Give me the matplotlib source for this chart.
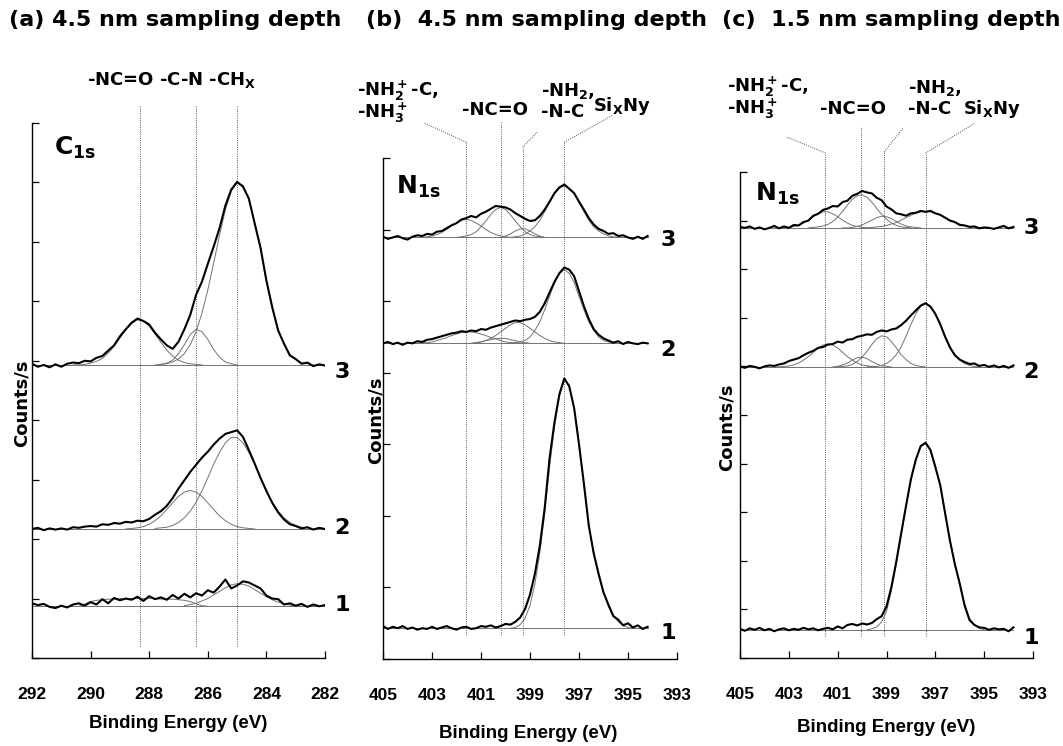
import numpy as np
import matplotlib
matplotlib.use('Agg')
import matplotlib.pyplot as plt

plt.rcParams['font.family'] = ['DejaVu Sans']
plt.rcParams['font.weight'] = 'bold'
plt.rcParams['mathtext.fontset'] = 'dejavusans'
plt.rcParams['mathtext.default'] = 'bf'

NARROW = ['Liberation Sans', 'DejaVu Sans']  # tick labels and axis titles
STEP = 0.2  # eV between read-off points

# ---- panel (a): C1s, 4.5 nm ----
a_start = 292.0
a_peaks = [288.3, 286.4, 285.0]
a_offsets = [0.87, 2.17, 4.93]
a1_env = [0.05, 0.02, 0.04, -0.01, -0.03, 0.01, -0.02, 0.03, 0.05, 0.01,
          0.07, 0.03, 0.12, 0.05, 0.14, 0.10, 0.13, 0.11, 0.16, 0.09,
          0.17, 0.12, 0.15, 0.11, 0.19, 0.13, 0.21, 0.15, 0.22, 0.18,
          0.27, 0.23, 0.33, 0.45, 0.30, 0.35, 0.42, 0.40, 0.35, 0.30,
          0.18, 0.13, 0.12, 0.03, 0.05, 0.01, 0.04, -0.01, 0.03, 0.00,
          0.02]
a2_env = [0.00, 0.02, -0.02, 0.01, -0.01, 0.01, -0.01, 0.03, 0.02, 0.04,
          0.05, 0.04, 0.08, 0.07, 0.10, 0.09, 0.12, 0.11, 0.14, 0.13,
          0.17, 0.24, 0.30, 0.39, 0.52, 0.68, 0.82, 0.96, 1.08, 1.20,
          1.30, 1.42, 1.52, 1.60, 1.63, 1.66, 1.55, 1.33, 1.10, 0.86,
          0.64, 0.44, 0.28, 0.16, 0.08, 0.05, 0.01, 0.03, -0.01, 0.02,
          0.00]
a3_env = [0.02, -0.03, 0.00, -0.04, 0.01, -0.03, 0.02, 0.04, 0.03, 0.07,
          0.06, 0.12, 0.15, 0.24, 0.33, 0.48, 0.60, 0.71, 0.78, 0.74,
          0.68, 0.54, 0.43, 0.33, 0.27, 0.39, 0.60, 0.84, 1.18, 1.40,
          1.70, 1.99, 2.30, 2.68, 2.95, 3.08, 3.00, 2.80, 2.38, 1.97,
          1.42, 0.97, 0.58, 0.36, 0.16, 0.10, 0.02, 0.04, -0.02, 0.01,
          -0.01]
# fitted components: (first energy, values)
a1_fits = [(290.4, [0.00, 0.04, 0.08, 0.10, 0.11, 0.12, 0.12, 0.13, 0.13, 0.13, 0.13, 0.13,
                    0.13, 0.13, 0.12, 0.12, 0.12, 0.11, 0.10, 0.08, 0.04, 0.01, 0.00]),
           (286.8, [0.01, 0.03, 0.05, 0.09, 0.13, 0.19, 0.25, 0.31, 0.36, 0.38, 0.37,
                    0.34, 0.28, 0.22, 0.16, 0.11, 0.07, 0.04, 0.02, 0.01, 0.00])]
a2_fits = [(288.8, [0.00, 0.01, 0.02, 0.04, 0.08, 0.14, 0.22, 0.33, 0.44, 0.55, 0.62, 0.65,
                    0.62, 0.55, 0.44, 0.33, 0.22, 0.14, 0.08, 0.04, 0.02, 0.01, 0.00]),
           (287.8, [0.01, 0.02, 0.03, 0.06, 0.11, 0.19, 0.30, 0.45, 0.64, 0.86, 1.09, 1.29,
                    1.45, 1.54, 1.54, 1.45, 1.29, 1.09, 0.86, 0.64, 0.45, 0.30, 0.19, 0.11,
                    0.06, 0.03, 0.02, 0.00])]
a3_fits = [(290.6, [0.00, 0.00, 0.01, 0.03, 0.06, 0.11, 0.20, 0.31, 0.45, 0.59, 0.70, 0.76,
                    0.74, 0.65, 0.52, 0.38, 0.25, 0.15, 0.08, 0.04, 0.02, 0.01, 0.00]),
           (287.8, [0.00, 0.01, 0.03, 0.08, 0.19, 0.34, 0.51, 0.60, 0.56, 0.43, 0.26, 0.13,
                    0.05, 0.02, 0.00]),
           (287.6, [0.01, 0.02, 0.05, 0.10, 0.19, 0.34, 0.56, 0.87, 1.26, 1.71, 2.18, 2.61,
                    2.92, 3.06, 3.02, 2.78, 2.40, 1.95, 1.40, 0.95, 0.60, 0.34, 0.18, 0.09,
                    0.04, 0.02, 0.00])]

# ---- panel (b): N1s, 4.5 nm ----
b_start = 405.0
b_peaks = [401.6, 400.2, 399.3, 397.6]
b_offsets = [0.43, 4.41, 5.89]
b1_env = [0.03, -0.01, 0.02, 0.00, 0.03, -0.01, 0.01, -0.02, 0.00, -0.01,
          0.02, -0.01, 0.01, 0.03, 0.00, -0.02, 0.01, 0.02, -0.01, 0.00,
          0.03, 0.02, 0.04, 0.01, 0.03, 0.06, 0.05, 0.09, 0.15, 0.27,
          0.47, 0.76, 1.15, 1.68, 2.38, 2.88, 3.27, 3.49, 3.38, 3.08,
          2.57, 2.02, 1.43, 1.05, 0.76, 0.50, 0.33, 0.17, 0.12, 0.04,
          0.07, 0.01, 0.04, -0.01, 0.02]
b2_env = [0.00, 0.02, -0.01, 0.01, -0.02, 0.01, 0.00, 0.03, 0.02, 0.05,
          0.06, 0.08, 0.10, 0.12, 0.14, 0.15, 0.17, 0.16, 0.18, 0.17,
          0.20, 0.19, 0.22, 0.24, 0.26, 0.28, 0.30, 0.32, 0.31, 0.33,
          0.34, 0.37, 0.44, 0.56, 0.71, 0.86, 0.98, 1.06, 1.03, 0.94,
          0.73, 0.52, 0.34, 0.20, 0.12, 0.07, 0.04, 0.01, 0.03, -0.01,
          0.02, 0.00, -0.01, 0.01, 0.00]
b3_env = [0.01, -0.02, 0.00, 0.02, -0.01, -0.03, 0.01, 0.03, 0.02, 0.05,
          0.04, 0.08, 0.09, 0.13, 0.17, 0.20, 0.25, 0.27, 0.30, 0.28,
          0.33, 0.36, 0.40, 0.44, 0.43, 0.42, 0.39, 0.34, 0.30, 0.26,
          0.23, 0.24, 0.30, 0.39, 0.50, 0.62, 0.70, 0.74, 0.68, 0.62,
          0.50, 0.39, 0.27, 0.18, 0.12, 0.09, 0.05, 0.06, 0.02, 0.03,
          0.00, -0.02, 0.01, -0.02, 0.02]
b1_fits = [(399.8, [0.00, 0.01, 0.05, 0.14, 0.32, 0.62, 1.05, 1.60, 2.25, 2.82, 3.24, 3.47,
                    3.40, 3.07, 2.58, 2.00, 1.45, 1.02, 0.74, 0.50, 0.30, 0.17, 0.09, 0.04,
                    0.01, 0.00])]
b2_fits = [(403.8, [0.00, 0.00, 0.01, 0.01, 0.02, 0.04, 0.06, 0.08, 0.11, 0.13, 0.15, 0.16,
                    0.16, 0.15, 0.13, 0.11, 0.08, 0.06, 0.04, 0.02, 0.01, 0.01, 0.00]),
           (401.4, [0.00, 0.01, 0.02, 0.04, 0.05, 0.07, 0.07, 0.07, 0.05, 0.04, 0.02, 0.01, 0.00]),
           (401.4, [0.00, 0.01, 0.02, 0.04, 0.07, 0.11, 0.16, 0.21, 0.26, 0.29, 0.29, 0.26,
                    0.21, 0.16, 0.11, 0.07, 0.04, 0.02, 0.01, 0.00]),
           (399.8, [0.00, 0.01, 0.02, 0.04, 0.09, 0.18, 0.30, 0.47, 0.66, 0.85, 0.98, 1.03,
                    0.98, 0.85, 0.66, 0.47, 0.30, 0.18, 0.09, 0.04, 0.02, 0.01, 0.00])]
b3_fits = [(403.4, [0.00, 0.01, 0.02, 0.04, 0.07, 0.11, 0.16, 0.20, 0.24, 0.25, 0.24, 0.20,
                    0.16, 0.11, 0.07, 0.04, 0.02, 0.01, 0.00]),
           (402.0, [0.00, 0.01, 0.02, 0.04, 0.08, 0.15, 0.23, 0.32, 0.39, 0.42, 0.39, 0.32,
                    0.23, 0.15, 0.08, 0.04, 0.02, 0.01, 0.00]),
           (400.2, [0.00, 0.02, 0.05, 0.09, 0.12, 0.12, 0.09, 0.05, 0.02, 0.00]),
           (399.8, [0.00, 0.01, 0.02, 0.05, 0.09, 0.15, 0.24, 0.36, 0.49, 0.61, 0.69, 0.72,
                    0.69, 0.61, 0.49, 0.36, 0.24, 0.15, 0.09, 0.05, 0.02, 0.01, 0.00])]

# ---- panel (c): N1s, 1.5 nm ----
c_start = 405.0
c_peaks = [401.5, 400.05, 399.1, 397.4]
c_offsets = [0.58, 5.99, 8.85]
c1_env = [0.02, -0.02, 0.03, 0.00, 0.04, -0.01, 0.02, -0.03, 0.01, 0.03,
          -0.01, 0.02, 0.00, 0.04, 0.01, 0.03, -0.01, 0.02, 0.04, 0.01,
          0.07, 0.03, 0.10, 0.12, 0.09, 0.13, 0.11, 0.14, 0.22, 0.28,
          0.48, 0.88, 1.40, 1.98, 2.55, 3.10, 3.50, 3.78, 3.85, 3.70,
          3.35, 2.98, 2.40, 1.83, 1.35, 0.95, 0.50, 0.20, 0.10, 0.05,
          0.04, 0.00, 0.03, 0.01, 0.02, -0.03, 0.05]
c2_env = [0.01, -0.02, 0.02, 0.00, -0.03, 0.01, 0.03, 0.02, 0.05, 0.07,
          0.12, 0.15, 0.18, 0.24, 0.29, 0.33, 0.39, 0.41, 0.46, 0.47,
          0.52, 0.50, 0.56, 0.57, 0.62, 0.64, 0.67, 0.66, 0.72, 0.75,
          0.73, 0.77, 0.79, 0.86, 0.95, 1.06, 1.16, 1.26, 1.31, 1.24,
          1.09, 0.88, 0.62, 0.40, 0.24, 0.15, 0.10, 0.06, 0.07, 0.02,
          0.04, 0.00, 0.03, -0.01, 0.02, -0.02, 0.03]
c3_env = [0.02, 0.00, 0.03, -0.02, 0.01, -0.03, 0.00, 0.04, -0.01, 0.03,
          0.00, 0.06, 0.05, 0.12, 0.15, 0.25, 0.29, 0.37, 0.40, 0.45,
          0.44, 0.53, 0.56, 0.66, 0.70, 0.76, 0.73, 0.71, 0.62, 0.57,
          0.44, 0.38, 0.30, 0.28, 0.25, 0.30, 0.31, 0.35, 0.33, 0.35,
          0.30, 0.27, 0.21, 0.15, 0.12, 0.06, 0.05, 0.02, 0.03, -0.01,
          0.01, 0.00, -0.02, 0.01, 0.04, -0.01, 0.02]
c1_fits = [(399.8, [0.00, 0.02, 0.06, 0.16, 0.38, 0.80, 1.35, 1.95, 2.55, 3.08, 3.50, 3.77,
                    3.83, 3.70, 3.38, 2.95, 2.40, 1.85, 1.35, 0.92, 0.52, 0.24, 0.10, 0.03,
                    0.00])]
c2_fits = [(403.6, [0.00, 0.00, 0.01, 0.02, 0.04, 0.08, 0.14, 0.21, 0.30, 0.39, 0.45, 0.47,
                    0.45, 0.39, 0.30, 0.21, 0.14, 0.08, 0.04, 0.02, 0.01, 0.00]),
           (401.2, [0.00, 0.01, 0.04, 0.08, 0.14, 0.19, 0.20, 0.17, 0.11, 0.06, 0.02, 0.01, 0.00]),
           (401.0, [0.00, 0.01, 0.02, 0.05, 0.11, 0.20, 0.32, 0.46, 0.58, 0.64, 0.62, 0.52,
                    0.39, 0.25, 0.15, 0.07, 0.03, 0.01, 0.00]),
           (399.8, [0.00, 0.01, 0.01, 0.03, 0.07, 0.14, 0.25, 0.41, 0.63, 0.87, 1.09, 1.25,
                    1.31, 1.25, 1.09, 0.87, 0.63, 0.41, 0.25, 0.14, 0.07, 0.03, 0.01, 0.00])]
c3_fits = [(403.4, [0.00, 0.00, 0.01, 0.03, 0.05, 0.10, 0.16, 0.23, 0.29, 0.33, 0.33, 0.29,
                    0.23, 0.16, 0.10, 0.05, 0.03, 0.01, 0.00]),
           (402.2, [0.00, 0.01, 0.02, 0.04, 0.07, 0.13, 0.22, 0.34, 0.47, 0.59, 0.66, 0.68,
                    0.63, 0.53, 0.40, 0.28, 0.18, 0.10, 0.05, 0.02, 0.01, 0.00]),
           (400.8, [0.00, 0.00, 0.01, 0.03, 0.06, 0.11, 0.16, 0.21, 0.24, 0.23, 0.19, 0.13,
                    0.08, 0.04, 0.02, 0.01, 0.00]),
           (400.0, [0.00, 0.00, 0.01, 0.02, 0.03, 0.05, 0.08, 0.11, 0.16, 0.21, 0.26, 0.30,
                    0.33, 0.34, 0.33, 0.30, 0.26, 0.21, 0.16, 0.11, 0.08, 0.05, 0.03, 0.02,
                    0.01, 0.00])]

W, H = 1063, 746
fig = plt.figure(figsize=(W / 100, H / 100), dpi=100)


def px_axes(x0, y0, x1, y1):
    # axes box from pixel corners (top-left origin)
    return fig.add_axes([x0 / W, 1 - y1 / H, (x1 - x0) / W, (y1 - y0) / H])


def ftext(x, y, s, **kw):
    kw.setdefault('ha', 'center')
    kw.setdefault('va', 'center')
    fig.text(x / W, 1 - y / H, s, **kw)


def energies(start, n):
    return start - STEP * np.arange(n)


def draw_spectrum(ax, start, env, offset, fits):
    be = energies(start, len(env))
    ax.plot([be[0], be[-1]], [offset, offset], color='0.45', lw=0.7, zorder=2)
    for e0, vals in fits:
        ax.plot(energies(e0, len(vals)), offset + np.array(vals),
                color='0.45', lw=0.7, zorder=2)
    ax.plot(be, offset + np.array(env), color='black', lw=1.5, zorder=3)


def setup(ax, xlim, xticks, ymax):
    ax.set_xlim(xlim)
    ax.set_ylim(0, ymax)
    ax.spines[['top', 'right']].set_visible(False)
    for s in ['left', 'bottom']:
        ax.spines[s].set_linewidth(1.0)
    ax.set_xticks(xticks)
    ax.set_xticklabels([str(t) for t in xticks], family=NARROW, fontsize=12.5)
    ax.set_yticks(range(0, ymax + 1))
    ax.set_yticklabels([])
    ax.tick_params(direction='in', length=5, width=0.9, pad=21)
    ax.patch.set_alpha(0)


def vlines(ax, peaks, y0, tops):
    for e, top in zip(peaks, tops):
        ax.plot([e, e], [y0, top], ls=(0, (1, 1.3)), color='0.35', lw=0.7,
                clip_on=False, zorder=1)


dot = dict(ls=(0, (1, 1.3)), color='0.3', lw=0.7, clip_on=False)

# (a)
ax_a = px_axes(32, 123, 325, 658)
setup(ax_a, (292, 282), [292, 290, 288, 286, 284, 282], 9)
vlines(ax_a, a_peaks, 0.2, [9.31] * 3)
for env, off, fits in zip([a1_env, a2_env, a3_env], a_offsets, [a1_fits, a2_fits, a3_fits]):
    draw_spectrum(ax_a, a_start, env, off, fits)

# (b)
ax_b = px_axes(383, 158, 677, 659)
setup(ax_b, (405, 393), [405, 403, 401, 399, 397, 395, 393], 7)
vlines(ax_b, b_peaks, 0.34, [7.22, 7.50, 7.15, 7.22])
ax_b.plot([b_peaks[0], 403.33], [7.22, 7.49], **dot)
ax_b.plot([b_peaks[2], 398.71], [7.15, 7.36], **dot)
ax_b.plot([b_peaks[3], 395.61], [7.22, 7.60], **dot)
for env, off, fits in zip([b1_env, b2_env, b3_env], b_offsets, [b1_fits, b2_fits, b3_fits]):
    draw_spectrum(ax_b, b_start, env, off, fits)

# (c)
ax_c = px_axes(740, 172, 1033, 658)
setup(ax_c, (405, 393), [405, 403, 401, 399, 397, 395, 393], 10)
vlines(ax_c, c_peaks, 0.45, [10.39, 10.93, 10.41, 10.39])
ax_c.plot([c_peaks[0], 403.08], [10.39, 10.72], **dot)
ax_c.plot([c_peaks[2], 398.33], [10.41, 10.90], **dot)
ax_c.plot([c_peaks[3], 395.39], [10.39, 11.00], **dot)
for env, off, fits in zip([c1_env, c2_env, c3_env], c_offsets, [c1_fits, c2_fits, c3_fits]):
    draw_spectrum(ax_c, c_start, env, off, fits)

# titles
ftext(175, 20, '(a) 4.5 nm sampling depth', fontsize=16)
ftext(536, 20, '(b)  4.5 nm sampling depth', fontsize=16)
ftext(891, 20, '(c)  1.5 nm sampling depth', fontsize=16)

# x labels and y labels
ftext(178, 724, 'Binding Energy (eV)', fontsize=13.5, family=NARROW)
ftext(528, 733, 'Binding Energy (eV)', fontsize=13.5, family=NARROW)
ftext(886, 727, 'Binding Energy (eV)', fontsize=13.5, family=NARROW)
ftext(22, 403, 'Counts/s', fontsize=13, rotation=90)
ftext(376, 420, 'Counts/s', fontsize=13, rotation=90)
ftext(727, 427, 'Counts/s', fontsize=13, rotation=90)

# core level labels
ftext(75, 148, r'C$_{1s}$', fontsize=18)
ftext(418, 187, r'N$_{1s}$', fontsize=18)
ftext(777, 194, r'N$_{1s}$', fontsize=18)

# spectrum numbers
for x, ys in [(342, [605, 528, 372]), (668, [633, 350, 240]), (1031, [638, 372, 228])]:
    for y, s in zip(ys, ['1', '2', '3']):
        ftext(x, y, s, fontsize=16)

# peak assignments
ftext(172, 80, r'-NC=O -C-N -CH$_X$', fontsize=13)
ftext(357, 91, r'-NH$_2^+$-C,', fontsize=13, ha='left')
ftext(357, 113, r'-NH$_3^+$', fontsize=13, ha='left')
ftext(495, 110, '-NC=O', fontsize=13)
ftext(541, 91, r'-NH$_2$,', fontsize=13, ha='left')
ftext(541, 112, '-N-C', fontsize=13, ha='left')
ftext(622, 106, r'Si$_X$Ny', fontsize=13)
ftext(727, 87, r'-NH$_2^+$-C,', fontsize=13, ha='left')
ftext(727, 109, r'-NH$_3^+$', fontsize=13, ha='left')
ftext(853, 109, '-NC=O', fontsize=13)
ftext(908, 88, r'-NH$_2$,', fontsize=13, ha='left')
ftext(908, 109, '-N-C', fontsize=13, ha='left')
ftext(992, 109, r'Si$_X$Ny', fontsize=13)

fig.savefig('out.png', dpi=100)
